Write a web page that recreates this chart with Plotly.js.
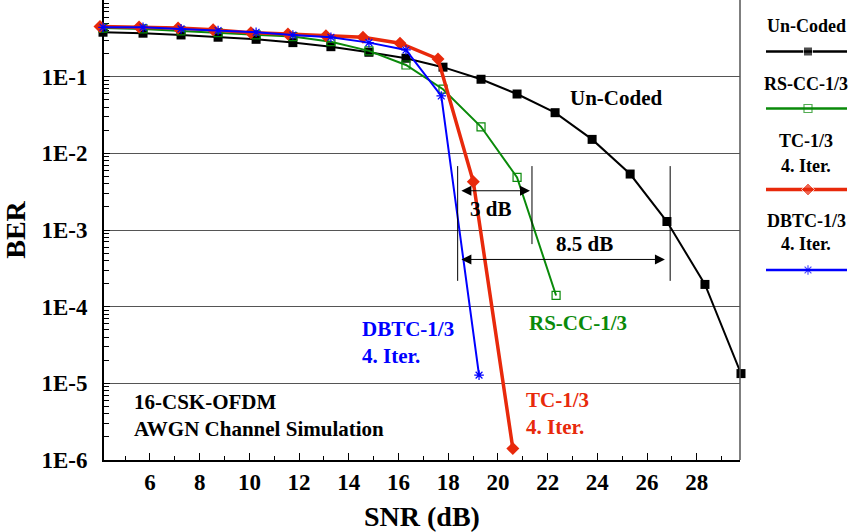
<!DOCTYPE html>
<html>
<head>
<meta charset="utf-8">
<script src="https://cdn.plot.ly/plotly-3.0.1.min.js"></script>
<style>html,body{margin:0;padding:0;background:#fff;}#chart{width:852px;height:532px;}</style>
</head>
<body>
<div id="chart"></div>
<script>
// ---- data ----
const snrUncoded = [4.11, 5.72, 7.25, 8.74, 10.27, 11.75, 13.28, 14.81, 16.30, 17.79, 19.32, 20.77, 22.30, 23.79, 25.32, 26.80, 28.33, 29.78];
const berUncoded = [0.38, 0.369, 0.35, 0.327, 0.307, 0.278, 0.246, 0.208, 0.174, 0.133, 0.0925, 0.0594, 0.0339, 0.0152, 0.00537, 0.00129, 1.95e-4, 1.34e-5];

const snrRSCC = [4.11, 5.72, 7.25, 8.74, 10.27, 11.75, 13.28, 14.81, 16.30, 17.79, 19.32, 20.77, 22.34];
const berRSCC = [0.43, 0.42, 0.395, 0.375, 0.35, 0.333, 0.286, 0.217, 0.142, 0.0686, 0.0222, 0.00486, 1.40e-4];

const snrTC = [3.99, 5.56, 7.13, 8.54, 10.06, 11.55, 13.08, 14.57, 16.06, 17.59, 19.01, 20.60];
const berTC = [0.45, 0.445, 0.43, 0.408, 0.375, 0.36, 0.343, 0.327, 0.273, 0.17, 0.00425, 1.41e-6];

const snrDBTC = [4.11, 5.72, 7.25, 8.74, 10.27, 11.75, 13.28, 14.81, 16.30, 17.72, 19.24];
const berDBTC = [0.44, 0.44, 0.42, 0.40, 0.38, 0.35, 0.327, 0.278, 0.223, 0.056, 1.28e-5];

const yTickVals = [1e-1, 1e-2, 1e-3, 1e-4, 1e-5, 1e-6];
const yTickText = ['1E-1', '1E-2', '1E-3', '1E-4', '1E-5', '1E-6'];

// gain markers (dB): left ref, RS-CC ref, uncoded ref
const gainRefs = [18.38, 21.37, 26.93];
const gainLabels = ['3 dB', '8.5 dB'];

// ---- styling ----
const FONT = 'Liberation Serif, Times New Roman, serif';
const BLACK = '#000000', GREEN = '#0a8a0a', RED = '#e8290b', BLUE = '#0000ff';

// axis geometry (pixels)
const ML = 94, PW = 852 - ML;           // paper left margin and width
const AX_L = 104, AX_R = 740;            // visible plot frame
const X_MIN = 4.15, X_MAX = 29.74;
const pxPerDb = (AX_R - AX_L) / (X_MAX - X_MIN);
const DR_L = 94, DR_R = 752;             // wider (invisible) drawing axis so edge markers are not hidden
const x3Range = [X_MIN - (AX_L - DR_L) / pxPerDb, X_MAX + (DR_R - AX_R) / pxPerDb];

const series = [
  {name:'Un-Coded', x:snrUncoded, y:berUncoded, color:BLACK, width:2, marker:{symbol:'square', size:9, color:BLACK}},
  {name:'RS-CC-1/3', x:snrRSCC, y:berRSCC, color:GREEN, width:2, marker:{symbol:'square-open', size:8, color:GREEN, line:{width:1.2, color:GREEN}}},
  {name:'TC-1/3', x:snrTC, y:berTC, color:RED, width:3.5, marker:{symbol:'diamond', size:10, color:RED}},
  {name:'DBTC-1/3', x:snrDBTC, y:berDBTC, color:BLUE, width:2, marker:{symbol:'asterisk-open', size:8, color:BLUE, line:{width:1.2, color:BLUE}}}
];

const traces = [{type:'scatter', mode:'markers', x:[], y:[], xaxis:'x', yaxis:'y', showlegend:false}];
series.forEach(s => traces.push({
  type:'scatter', mode:'lines+markers', x:s.x, y:s.y, name:s.name,
  line:{color:s.color, width:s.width}, marker:s.marker, cliponaxis:false, showlegend:false,
  xaxis:'x3', yaxis:'y3'
}));

// custom legend (text above a line sample), drawn on a helper axis in pixel units
const legendRows = [
  {lines:['Un-Coded'], textY:[26], sampleY:51.5},
  {lines:['RS-CC-1/3'], textY:[84], sampleY:108.5},
  {lines:['TC-1/3','4. Iter.'], textY:[141,165.5], sampleY:189.5},
  {lines:['DBTC-1/3','4. Iter.'], textY:[221,244], sampleY:270}
];
const annotations = [];
legendRows.forEach((r, i) => {
  const s = series[i];
  const lm = Object.assign({}, s.marker);
  lm.size = [0, s.marker.size, 0];
  traces.push({type:'scatter', mode:'lines+markers', x:[766, 808, 847], y:[r.sampleY, r.sampleY, r.sampleY],
    xaxis:'x2', yaxis:'y2', line:{color:s.color, width:i===2?3.5:2.5}, marker:lm, showlegend:false, hoverinfo:'skip', cliponaxis:false});
  r.lines.forEach((t, k) => annotations.push({xref:'x2', yref:'y2', x:806, y:r.textY[k], text:'<b>'+t+'</b>',
    showarrow:false, xanchor:'center', yanchor:'middle', font:{family:FONT, size:18, color:'#000'}}));
});

const lg = v => Math.log10(v);
// in-plot labels
const labels = [
  {x:22.82, y:lg(0.0527), t:'Un-Coded', c:BLACK},
  {x:21.17, y:lg(6.1e-5), t:'RS-CC-1/3', c:GREEN},
  {x:14.45, y:lg(3.46e-5), t:'DBTC-1/3<br>4. Iter.', c:BLUE},
  {x:21.05, y:lg(4.01e-6), t:'TC-1/3<br>4. Iter.', c:RED},
  {x:5.28, y:lg(3.75e-6), t:'16-CSK-OFDM<br>AWGN Channel Simulation', c:BLACK}
];
labels.forEach(l => annotations.push({xref:'x', yref:'y', x:l.x, y:l.y, text:'<b>'+l.t.replace('<br>','</b><br><b>')+'</b>',
  showarrow:false, xanchor:'left', yanchor:'middle', align:'left', font:{family:FONT, size:21, color:l.c}}));

// gain arrows
annotations.push({xref:'x', yref:'y', axref:'x', ayref:'y', x:21.29, y:lg(3.25e-3), ax:18.47, ay:lg(3.25e-3),
  text:'', showarrow:true, arrowside:'end+start', arrowhead:2, arrowsize:2, arrowwidth:1, arrowcolor:'#000', standoff:0, startstandoff:0});
annotations.push({xref:'x', yref:'y', axref:'x', ayref:'y', x:26.72, y:lg(4.13e-4), ax:18.47, ay:lg(4.13e-4),
  text:'', showarrow:true, arrowside:'end+start', arrowhead:2, arrowsize:2, arrowwidth:1, arrowcolor:'#000', standoff:0, startstandoff:0});
annotations.push({xref:'x', yref:'y', x:19.71, y:lg(1.87e-3), text:'<b>'+gainLabels[0]+'</b>', showarrow:false,
  xanchor:'center', yanchor:'middle', font:{family:FONT, size:21, color:'#000'}});
annotations.push({xref:'x', yref:'y', x:23.49, y:lg(6.55e-4), text:'<b>'+gainLabels[1]+'</b>', showarrow:false,
  xanchor:'center', yanchor:'middle', font:{family:FONT, size:21, color:'#000'}});

const shapes = [
  {type:'line', xref:'x', yref:'y', x0:gainRefs[0], x1:gainRefs[0], y0:6.82e-3, y1:2.17e-4, line:{color:'#000', width:1}},
  {type:'line', xref:'x', yref:'y', x0:gainRefs[1], x1:gainRefs[1], y0:6.82e-3, y1:6.55e-4, line:{color:'#000', width:1}},
  {type:'line', xref:'x', yref:'y', x0:gainRefs[2], x1:gainRefs[2], y0:6.82e-3, y1:2.17e-4, line:{color:'#000', width:1}},
  {type:'line', xref:'x domain', yref:'y domain', x0:1, x1:1, y0:0, y1:1, line:{color:'#555', width:1.5}}
];

const layout = {
  width:852, height:532,
  margin:{l:ML, r:0, t:0, b:72, pad:0},
  paper_bgcolor:'#fff', plot_bgcolor:'rgba(0,0,0,0)',
  font:{family:FONT, color:'#000'},
  showlegend:false,
  xaxis:{
    domain:[(AX_L - ML) / PW, (AX_R - ML) / PW], range:[X_MIN, X_MAX], anchor:'y',
    tickmode:'linear', tick0:0, dtick:2, ticks:'inside', ticklen:7, tickwidth:1, tickcolor:'#000',
    minor:{dtick:1, tick0:0, ticks:'inside', ticklen:4, tickwidth:1, tickcolor:'#000'},
    showline:true, linecolor:'#000', linewidth:2, showgrid:false, zeroline:false,
    tickfont:{family:FONT, size:23, color:'#000', weight:'bold'}, ticklabelstandoff:0,
    title:{text:'<b>SNR (dB)</b>', font:{family:FONT, size:28, color:'#000'}, standoff:14}
  },
  yaxis:{
    type:'log', range:[-6, 0], anchor:'x', domain:[0, 1],
    tickmode:'array', tickvals:yTickVals, ticktext:yTickText,
    ticks:'inside', ticklen:6, tickwidth:1, tickcolor:'#000',
    minor:{dtick:'D1', ticks:'inside', ticklen:5, tickwidth:1, tickcolor:'#000', showgrid:false},
    showline:true, linecolor:'#000', linewidth:2, showgrid:true, gridcolor:'#555', gridwidth:1, zeroline:false,
    tickfont:{family:FONT, size:23, color:'#000', weight:'bold'}, ticklabelstandoff:10,
    title:{text:'<b>BER</b>', font:{family:FONT, size:28, color:'#000'}, standoff:10}
  },
  xaxis3:{domain:[(DR_L - ML) / PW, (DR_R - ML) / PW], range:x3Range, anchor:'y3', visible:false, fixedrange:true},
  yaxis3:{type:'log', domain:[0, 1], range:[-6, 0], anchor:'x3', visible:false, showgrid:false, fixedrange:true},
  xaxis2:{domain:[(745 - ML) / PW, 1], range:[745, 852], anchor:'y2', visible:false, fixedrange:true},
  yaxis2:{domain:[0, 1], range:[460, 0], anchor:'x2', visible:false, fixedrange:true},
  annotations:annotations,
  shapes:shapes
};

Plotly.newPlot('chart', traces, layout, {staticPlot:true, displayModeBar:false});
</script>
</body>
</html>
